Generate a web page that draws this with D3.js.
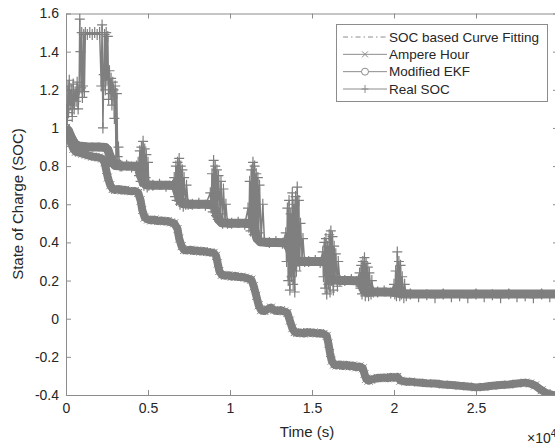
<!DOCTYPE html>
<html>
<head>
<meta charset="utf-8">
<script src="https://cdn.jsdelivr.net/npm/d3@7"></script>
<style>
  body { margin: 0; background: #fff; }
  svg { display: block; font-family: "Liberation Sans", Arial, sans-serif; }
  .axis path, .axis line { stroke: #8c8c8c; }
  .axis text { fill: #262626; font-size: 14px; }
</style>
</head>
<body>
<svg class="chart"></svg>
<script>
// Axis ticks (time in units of 1e4 s)
var xTicks = [0, 0.5, 1, 1.5, 2, 2.5, 3];
var xTickLabels = ["0", "0.5", "1", "1.5", "2", "2.5", ""];   // "3" falls outside the picture
var yTicks = [-0.4, -0.2, 0, 0.2, 0.4, 0.6, 0.8, 1, 1.2, 1.4, 1.6];
var yTickLabels = ["-0.4", "-0.2", "0", "0.2", "0.4", "0.6", "0.8", "1", "1.2", "1.4", "1.6"];

var seriesNames = ["SOC based Curve Fitting", "Ampere Hour", "Modified EKF", "Real SOC"];

// SOC based Curve Fitting: [time, soc]
var curveFitting = [[0,1.0],[0.06,0.91],[0.25,0.9],[0.3,0.8],[0.44,0.8],[0.49,0.7],[0.67,0.7],[0.72,0.6],
  [0.9,0.6],[0.96,0.5],[1.14,0.5],[1.2,0.4],[1.35,0.4],[1.41,0.3],[1.59,0.3],[1.64,0.2],[1.8,0.2],
  [1.85,0.14],[2.02,0.14],[2.05,0.13],[3.0,0.13]];

// Ampere Hour
var ampereHour = [[0,1.0],[0.015,0.96],[0.03,0.92],[0.045,0.89],[0.06,0.875],[0.08,0.87],[0.1,0.865],
  [0.12,0.86],[0.14,0.855],[0.16,0.85],[0.18,0.848],[0.2,0.845],[0.22,0.84],[0.235,0.82],[0.245,0.78],
  [0.255,0.74],[0.27,0.7],[0.285,0.68],[0.3,0.675],[0.32,0.68],[0.34,0.672],[0.36,0.676],[0.38,0.67],
  [0.4,0.668],[0.42,0.67],[0.44,0.66],[0.455,0.62],[0.465,0.57],[0.48,0.53],[0.5,0.52],[0.52,0.515],
  [0.54,0.52],[0.56,0.512],[0.58,0.515],[0.6,0.51],[0.62,0.512],[0.64,0.505],[0.66,0.5],[0.68,0.47],
  [0.69,0.42],[0.705,0.38],[0.72,0.36],[0.74,0.358],[0.76,0.362],[0.78,0.355],[0.8,0.358],[0.82,0.352],
  [0.84,0.355],[0.86,0.35],[0.88,0.348],[0.9,0.345],[0.915,0.33],[0.925,0.29],[0.935,0.25],[0.95,0.23],
  [0.97,0.225],[0.99,0.228],[1.01,0.22],[1.03,0.225],[1.05,0.218],[1.07,0.22],[1.09,0.215],[1.11,0.21],
  [1.13,0.205],[1.145,0.17],[1.16,0.12],[1.175,0.07],[1.19,0.045],[1.21,0.04],[1.23,0.05],[1.25,0.058],
  [1.27,0.045],[1.29,0.04],[1.31,0.045],[1.33,0.038],[1.35,0.03],[1.365,-0.01],[1.38,-0.05],[1.395,-0.07],
  [1.41,-0.075],[1.43,-0.072],[1.45,-0.078],[1.47,-0.07],[1.49,-0.075],[1.51,-0.072],[1.53,-0.078],
  [1.55,-0.075],[1.57,-0.08],[1.59,-0.09],[1.6,-0.13],[1.61,-0.18],[1.62,-0.22],[1.635,-0.24],[1.65,-0.245],
  [1.67,-0.24],[1.69,-0.248],[1.71,-0.242],[1.73,-0.25],[1.75,-0.245],[1.77,-0.255],[1.79,-0.25],[1.81,-0.26],
  [1.82,-0.29],[1.83,-0.315],[1.845,-0.325],[1.86,-0.32],[1.88,-0.315],[1.9,-0.31],[1.92,-0.312],[1.94,-0.308],
  [1.96,-0.312],[1.98,-0.305],[2.0,-0.31],[2.02,-0.305],[2.04,-0.325],[2.07,-0.33],[2.1,-0.33],[2.15,-0.335],
  [2.2,-0.338],[2.25,-0.34],[2.3,-0.345],[2.35,-0.348],[2.4,-0.352],[2.45,-0.355],[2.5,-0.36],[2.55,-0.357],
  [2.6,-0.352],[2.65,-0.348],[2.7,-0.345],[2.75,-0.34],[2.8,-0.335],[2.83,-0.34],[2.86,-0.35],[2.9,-0.375],
  [2.93,-0.39],[2.97,-0.4],[3.0,-0.405]];

// Modified EKF
var modifiedEKF = [[0,1.0],[0.015,0.985],[0.03,0.955],[0.045,0.93],[0.06,0.912],[0.08,0.905],[0.12,0.902],
  [0.16,0.9],[0.2,0.9],[0.24,0.898],[0.255,0.885],[0.27,0.85],[0.285,0.815],[0.3,0.803],[0.34,0.8],[0.38,0.8],
  [0.42,0.798],[0.44,0.79],[0.455,0.75],[0.47,0.715],[0.49,0.702],[0.53,0.7],[0.58,0.7],[0.63,0.7],[0.665,0.695],
  [0.68,0.66],[0.695,0.62],[0.715,0.603],[0.76,0.6],[0.81,0.6],[0.86,0.6],[0.9,0.595],[0.915,0.56],[0.93,0.52],
  [0.95,0.503],[1.0,0.5],[1.05,0.5],[1.1,0.5],[1.135,0.495],[1.15,0.46],[1.165,0.42],[1.185,0.403],[1.23,0.4],
  [1.28,0.4],[1.34,0.398],[1.36,0.37],[1.38,0.32],[1.4,0.303],[1.45,0.3],[1.5,0.3],[1.55,0.3],[1.585,0.297],
  [1.6,0.26],[1.615,0.22],[1.635,0.203],[1.68,0.2],[1.73,0.2],[1.79,0.198],[1.805,0.17],[1.82,0.145],[1.84,0.14],
  [1.9,0.14],[1.95,0.14],[2.0,0.138],[2.04,0.132],[2.1,0.13],[2.3,0.13],[2.5,0.13],[2.7,0.13],[2.9,0.13],[3.0,0.13]];

// Real SOC (noisy measurement)
var realSOC = [[0,1.0],[0.004,1.1],[0.008,1.04],[0.012,1.22],[0.016,1.08],[0.02,1.25],[0.026,1.12],[0.032,1.2],
  [0.038,1.06],[0.044,1.23],[0.05,1.1],[0.056,1.19],[0.062,1.14],[0.068,1.24],[0.074,1.1],[0.08,1.2],[0.084,1.57],
  [0.088,1.4],[0.092,1.21],[0.096,1.5],[0.1,1.16],[0.104,1.22],[0.108,1.49],[0.112,1.19],[0.118,1.5],[0.13,1.49],
  [0.145,1.5],[0.16,1.49],[0.175,1.5],[0.19,1.49],[0.205,1.5],[0.215,1.22],[0.22,1.54],[0.225,1.0],[0.23,1.28],
  [0.235,1.49],[0.24,1.2],[0.245,1.5],[0.25,1.25],[0.255,1.48],[0.26,1.15],[0.265,1.3],[0.27,1.18],[0.275,1.26],
  [0.28,1.12],[0.285,1.24],[0.29,1.2],[0.295,1.05],[0.3,1.22],[0.305,0.83],[0.31,1.18],[0.315,0.85],[0.32,0.9],
  [0.325,0.81],[0.33,0.8],
  [0.34,0.8],[0.37,0.805],[0.4,0.795],[0.43,0.8],
  [0.44,0.82],[0.445,0.75],[0.45,0.88],[0.455,0.72],[0.46,0.9],[0.465,0.78],[0.47,0.93],[0.475,0.7],[0.48,0.89],
  [0.485,0.74],[0.49,0.86],[0.495,0.69],[0.5,0.82],[0.505,0.7],
  [0.53,0.7],[0.57,0.705],[0.61,0.695],[0.65,0.7],
  [0.66,0.74],[0.665,0.64],[0.67,0.8],[0.675,0.62],[0.68,0.82],[0.685,0.66],[0.69,0.84],[0.695,0.6],[0.7,0.8],
  [0.705,0.63],[0.71,0.78],[0.715,0.59],[0.72,0.74],[0.73,0.6],[0.735,0.7],[0.745,0.6],
  [0.77,0.6],[0.81,0.605],[0.85,0.595],
  [0.88,0.66],[0.885,0.58],[0.89,0.76],[0.895,0.56],[0.9,0.83],[0.905,0.6],[0.91,0.8],[0.915,0.54],[0.92,0.78],
  [0.925,0.52],[0.93,0.75],[0.94,0.55],[0.945,0.72],[0.955,0.5],[0.96,0.68],[0.97,0.52],[0.975,0.6],[0.985,0.5],
  [1.01,0.5],[1.05,0.505],[1.09,0.495],
  [1.11,0.58],[1.115,0.48],[1.12,0.72],[1.125,0.46],[1.13,0.78],[1.135,0.5],[1.14,0.82],[1.145,0.44],[1.15,0.8],
  [1.155,0.46],[1.16,0.76],[1.165,0.43],[1.17,0.74],[1.175,0.45],[1.18,0.7],[1.19,0.42],[1.2,0.6],[1.21,0.41],
  [1.24,0.4],[1.28,0.405],[1.32,0.395],
  [1.34,0.45],[1.345,0.3],[1.35,0.58],[1.355,0.2],[1.36,0.62],[1.365,0.15],[1.37,0.55],[1.375,0.22],[1.38,0.66],
  [1.385,0.18],[1.39,0.6],[1.395,0.14],[1.4,0.64],[1.405,0.25],[1.41,0.69],[1.415,0.3],[1.42,0.62],[1.425,0.28],
  [1.43,0.5],[1.44,0.32],[1.445,0.42],[1.455,0.3],
  [1.48,0.3],[1.52,0.305],[1.55,0.295],
  [1.565,0.35],[1.57,0.22],[1.575,0.4],[1.58,0.16],[1.585,0.42],[1.59,0.13],[1.595,0.38],[1.6,0.18],[1.605,0.44],
  [1.61,0.14],[1.615,0.46],[1.62,0.2],[1.625,0.43],[1.63,0.15],[1.635,0.38],[1.64,0.22],[1.645,0.34],[1.655,0.17],
  [1.66,0.3],[1.67,0.2],
  [1.7,0.2],[1.74,0.205],[1.77,0.195],
  [1.79,0.24],[1.795,0.16],[1.8,0.28],[1.805,0.13],[1.81,0.3],[1.815,0.15],[1.82,0.32],[1.825,0.12],[1.83,0.29],
  [1.835,0.14],[1.84,0.27],[1.845,0.12],[1.85,0.24],[1.86,0.13],[1.865,0.2],[1.875,0.14],
  [1.9,0.14],[1.94,0.145],[1.98,0.135],
  [2.0,0.18],[2.005,0.13],[2.01,0.25],[2.015,0.12],[2.02,0.35],[2.025,0.14],[2.03,0.3],[2.035,0.12],[2.04,0.28],
  [2.045,0.13],[2.05,0.22],[2.06,0.11],[2.065,0.18],[2.075,0.12],
  [2.1,0.13],[2.15,0.115],[2.2,0.125],[2.25,0.11],[2.3,0.13],[2.35,0.115],[2.4,0.12],[2.45,0.11],[2.5,0.13],
  [2.55,0.115],[2.6,0.125],[2.65,0.11],[2.7,0.13],[2.75,0.115],[2.8,0.12],[2.85,0.11],[2.9,0.13],[2.95,0.115],[3.0,0.125]];

// Chart geometry (plot box runs a little past the right edge of the picture)
var W = 555, H = 447;
var margin = {top: 13.5, left: 66},
    plotRight = 558, plotBottom = 395;
var grey = "#7f7f7f";

var svg = d3.select(".chart")
    .attr("width", W)
    .attr("height", H);

var x = d3.scaleLinear().domain([0, 3]).range([margin.left, plotRight]);
var y = d3.scaleLinear().domain([-0.4, 1.6]).range([plotBottom, margin.top]);

// Axes, MATLAB style with inward ticks on all four sides
svg.append("g")
    .attr("class", "axis")
    .attr("transform", "translate(0," + plotBottom + ")")
    .call(d3.axisBottom(x).tickValues(xTicks).tickSizeInner(-5).tickSizeOuter(0).tickPadding(8)
      .tickFormat(function(d, i) { return xTickLabels[i]; }));

svg.append("g")
    .attr("class", "axis")
    .attr("transform", "translate(" + margin.left + ",0)")
    .call(d3.axisLeft(y).tickValues(yTicks).tickSizeInner(-5).tickSizeOuter(0).tickPadding(7)
      .tickFormat(function(d, i) { return yTickLabels[i]; }));

svg.append("g")
    .attr("class", "axis")
    .attr("transform", "translate(0," + margin.top + ")")
    .call(d3.axisTop(x).tickValues(xTicks).tickSizeInner(-5).tickSizeOuter(0).tickFormat(""));

svg.append("g")
    .attr("class", "axis")
    .attr("transform", "translate(" + plotRight + ",0)")
    .call(d3.axisRight(y).tickValues(yTicks).tickSizeInner(-5).tickSizeOuter(0).tickFormat(""));

// Clip data to the plot box
svg.append("clipPath").attr("id", "plotclip")
  .append("rect")
    .attr("x", margin.left).attr("y", margin.top)
    .attr("width", plotRight - margin.left).attr("height", plotBottom - margin.top);

var plot = svg.append("g").attr("clip-path", "url(#plotclip)");

var line = d3.line()
    .x(function(d) { return x(d[0]); })
    .y(function(d) { return y(d[1]); });

var crossPath = "M-4,-4L4,4M-4,4L4,-4";
var plusPath = "M-5,0H5M0,-5.5V5.5";

// SOC based Curve Fitting
plot.append("path")
    .datum(curveFitting)
    .attr("d", line)
    .attr("fill", "none")
    .attr("stroke", grey)
    .attr("stroke-width", 1)
    .attr("stroke-dasharray", "6,3,1.5,3");

// Ampere Hour
plot.append("path")
    .datum(ampereHour)
    .attr("d", line)
    .attr("fill", "none")
    .attr("stroke", grey)
    .attr("stroke-width", 8)
    .attr("stroke-linejoin", "round");

plot.selectAll(".ah")
    .data(ampereHour)
    .enter().append("path")
    .attr("class", "ah")
    .attr("transform", function(d) { return "translate(" + x(d[0]) + "," + y(d[1]) + ")"; })
    .attr("d", crossPath)
    .attr("stroke", grey)
    .attr("stroke-width", 1);

// Modified EKF
plot.append("path")
    .datum(modifiedEKF)
    .attr("d", line)
    .attr("fill", "none")
    .attr("stroke", grey)
    .attr("stroke-width", 9)
    .attr("stroke-linejoin", "round");

plot.selectAll(".ekf")
    .data(modifiedEKF)
    .enter().append("circle")
    .attr("class", "ekf")
    .attr("cx", function(d) { return x(d[0]); })
    .attr("cy", function(d) { return y(d[1]); })
    .attr("r", 4)
    .attr("fill", "none")
    .attr("stroke", grey);

// Real SOC
plot.append("path")
    .datum(realSOC)
    .attr("d", line)
    .attr("fill", "none")
    .attr("stroke", grey)
    .attr("stroke-width", 1.5);

plot.selectAll(".real")
    .data(realSOC)
    .enter().append("path")
    .attr("class", "real")
    .attr("transform", function(d) { return "translate(" + x(d[0]) + "," + y(d[1]) + ")"; })
    .attr("d", plusPath)
    .attr("stroke", grey)
    .attr("stroke-width", 1.2);

// Axis labels
svg.append("text")
    .attr("x", 307)
    .attr("y", 437)
    .attr("text-anchor", "middle")
    .attr("font-size", 15)
    .attr("fill", "#262626")
    .text("Time (s)");

svg.append("text")
    .attr("transform", "translate(23,204) rotate(-90)")
    .attr("text-anchor", "middle")
    .attr("font-size", 15)
    .attr("fill", "#262626")
    .text("State of Charge (SOC)");

var expo = svg.append("text")
    .attr("x", 527)
    .attr("y", 443)
    .attr("font-size", 14)
    .attr("fill", "#262626")
    .text("\u00d710");
expo.append("tspan")
    .attr("dy", -6)
    .attr("font-size", 10)
    .text("4");

// Legend
var legend = svg.append("g");
legend.append("rect")
    .attr("x", 336.5).attr("y", 24.5)
    .attr("width", 211).attr("height", 77)
    .attr("fill", "#fff")
    .attr("stroke", "#8c8c8c");

var rowY = d3.scalePoint().domain(seriesNames).range([37, 89]);

var rows = legend.selectAll(".row")
    .data(seriesNames)
    .enter().append("g")
    .attr("transform", function(d) { return "translate(0," + rowY(d) + ")"; });

rows.append("line")
    .attr("x1", 343).attr("x2", 387)
    .attr("stroke", "#8c8c8c")
    .attr("stroke-dasharray", function(d, i) { return i === 0 ? "5,3,1.5,3" : null; });

rows.filter(function(d, i) { return i === 1; }).append("path")
    .attr("transform", "translate(365,0)")
    .attr("d", "M-3,-3L3,3M-3,3L3,-3")
    .attr("stroke", "#8c8c8c");
rows.filter(function(d, i) { return i === 2; }).append("circle")
    .attr("cx", 365).attr("r", 3.5)
    .attr("fill", "#fff").attr("stroke", "#8c8c8c");
rows.filter(function(d, i) { return i === 3; }).append("path")
    .attr("transform", "translate(365,0)")
    .attr("d", "M-3.5,0H3.5M0,-4V4")
    .attr("stroke", "#8c8c8c");

rows.append("text")
    .attr("x", 389)
    .attr("dy", "0.35em")
    .attr("font-size", 13.5)
    .attr("fill", "#262626")
    .text(function(d) { return d; });
</script>
</body>
</html>
